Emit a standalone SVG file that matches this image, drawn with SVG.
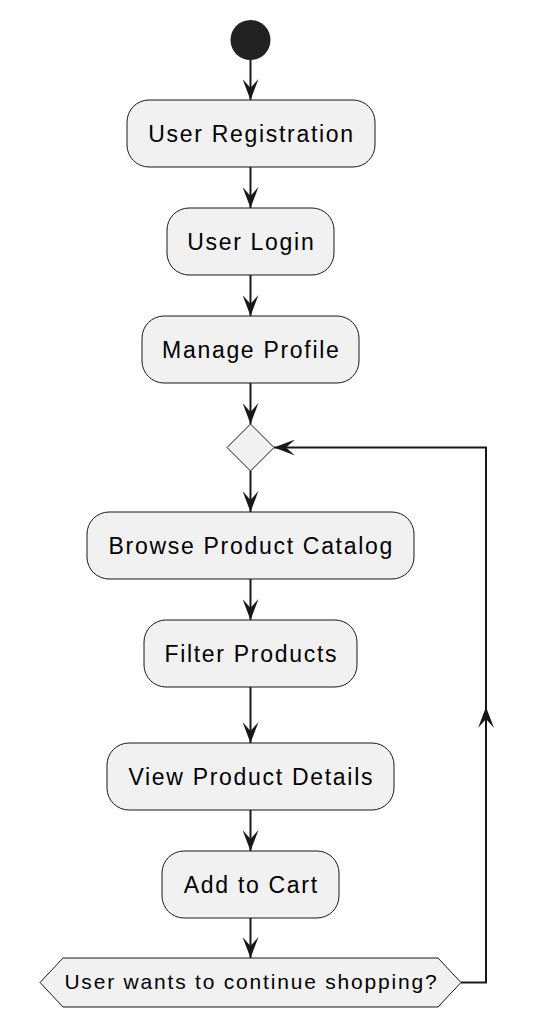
<svg xmlns="http://www.w3.org/2000/svg" width="536" height="1030" viewBox="0 0 536 1030">
<defs>
<style>
.node{fill:#F1F1F1;stroke:#181818;stroke-width:1}
.lbl{font-family:"Liberation Sans",Arial,sans-serif;font-size:23px;fill:#000;text-anchor:middle;letter-spacing:1.7px}
.edge{fill:none;stroke:#181818;stroke-width:2}
</style>
<marker id="ah" viewBox="0 0 22 16" refX="21" refY="8" markerWidth="22" markerHeight="16" markerUnits="userSpaceOnUse" orient="auto">
<polygon points="21,8 0,0 9,8 0,16" fill="#181818"/>
</marker>
</defs>
<rect width="536" height="1030" fill="#FFFFFF"/>
<g id="connectors">
<line class="edge" x1="250.5" y1="60" x2="250.5" y2="100" marker-end="url(#ah)"/>
<line class="edge" x1="250.5" y1="167" x2="250.5" y2="208" marker-end="url(#ah)"/>
<line class="edge" x1="250.5" y1="275" x2="250.5" y2="316" marker-end="url(#ah)"/>
<line class="edge" x1="250.5" y1="383" x2="250.5" y2="424" marker-end="url(#ah)"/>
<line class="edge" x1="250.5" y1="471" x2="250.5" y2="512" marker-end="url(#ah)"/>
<line class="edge" x1="250.5" y1="579" x2="250.5" y2="620" marker-end="url(#ah)"/>
<line class="edge" x1="250.5" y1="687" x2="250.5" y2="743" marker-end="url(#ah)"/>
<line class="edge" x1="250.5" y1="810" x2="250.5" y2="851" marker-end="url(#ah)"/>
<line class="edge" x1="250.5" y1="918" x2="250.5" y2="958" marker-end="url(#ah)"/>
<polyline class="edge" points="461,982.5 486,982.5 486,707" marker-end="url(#ah)"/>
<polyline class="edge" points="486,710 486,447.5 274,447.5" marker-end="url(#ah)"/>
</g>
<g id="start"><circle cx="250.5" cy="40" r="20" fill="#222222"/></g>
<g id="n1"><rect class="node" x="127" y="100" width="248" height="67" rx="22"/><text class="lbl" x="251.5" y="141.8">User Registration</text></g>
<g id="n2"><rect class="node" x="167" y="208" width="167" height="67" rx="22"/><text class="lbl" x="251.3" y="249.8">User Login</text></g>
<g id="n3"><rect class="node" x="142" y="316" width="217" height="67" rx="22"/><text class="lbl" x="251.3" y="357.8">Manage Profile</text></g>
<g id="merge"><polygon class="node" points="250.5,424 274,447.5 250.5,471 227,447.5"/></g>
<g id="n4"><rect class="node" x="87" y="512" width="327" height="67" rx="22"/><text class="lbl" x="251.3" y="553.8">Browse Product Catalog</text></g>
<g id="n5"><rect class="node" x="144" y="620" width="213" height="67" rx="22"/><text class="lbl" x="251.3" y="661.8">Filter Products</text></g>
<g id="n6"><rect class="node" x="107" y="743" width="287" height="67" rx="22"/><text class="lbl" x="251.3" y="784.8">View Product Details</text></g>
<g id="n7"><rect class="node" x="162" y="851" width="177" height="67" rx="22"/><text class="lbl" x="251.3" y="892.8">Add to Cart</text></g>
<g id="decision"><polygon class="node" points="40,982.5 63,958 438,958 461,982.5 438,1007 63,1007"/><text class="lbl" x="251.4" y="989" style="font-size:21px;letter-spacing:1.8px">User wants to continue shopping?</text></g>
</svg>
